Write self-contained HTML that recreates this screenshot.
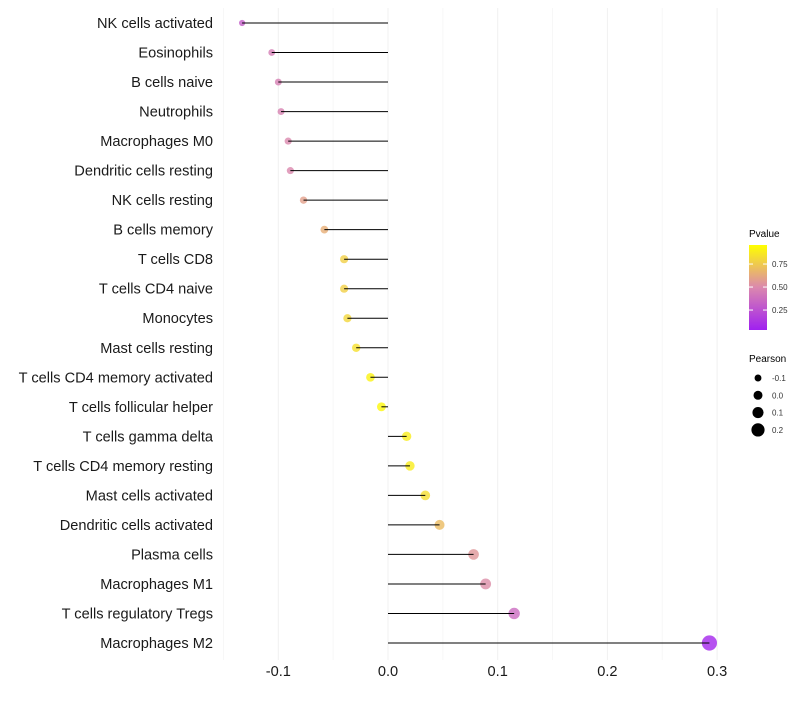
<!DOCTYPE html>
<html><head><meta charset="utf-8"><style>
body{margin:0;background:#fff;font-family:"Liberation Sans",sans-serif}
</style></head><body>
<svg id="chart" width="800" height="700" xmlns="http://www.w3.org/2000/svg" font-family="Liberation Sans, sans-serif">
<defs><linearGradient id="pg" x1="0" y1="1" x2="0" y2="0">
<stop offset="0" stop-color="#A020F0"/><stop offset="0.5" stop-color="#DB88AE"/><stop offset="1" stop-color="#FFFF00"/>
</linearGradient></defs>
<g id="grid"></g>
<g id="marks"></g>
<g id="labels"></g>
<g id="xticks"></g>
<g>
<text x="749" y="237" font-size="10" fill="#000">Pvalue</text>
<rect x="749" y="245" width="18" height="85" fill="url(#pg)"/>
<g id="cbticks"></g>
</g>
<g id="sizeleg">
<text x="749" y="362" font-size="10" fill="#000">Pearson</text>
</g>
</svg>
<script>
const cells=["NK cells activated","Eosinophils","B cells naive","Neutrophils","Macrophages M0","Dendritic cells resting","NK cells resting","B cells memory","T cells CD8","T cells CD4 naive","Monocytes","Mast cells resting","T cells CD4 memory activated","T cells follicular helper","T cells gamma delta","T cells CD4 memory resting","Mast cells activated","Dendritic cells activated","Plasma cells","Macrophages M1","T cells regulatory  Tregs","Macrophages M2"];
const pearson=[-0.133,-0.106,-0.100,-0.0975,-0.091,-0.089,-0.077,-0.058,-0.040,-0.040,-0.037,-0.029,-0.016,-0.006,0.017,0.020,0.034,0.047,0.078,0.089,0.115,0.293];
const pvalue=[0.30,0.45,0.46,0.47,0.50,0.50,0.60,0.66,0.80,0.80,0.83,0.87,0.95,0.97,0.92,0.92,0.86,0.72,0.56,0.52,0.36,0.03];
const xTicks=[-0.1,0.0,0.1,0.2,0.3];
const xTickLabels=["-0.1","0.0","0.1","0.2","0.3"];
const cbTicks=[0.25,0.5,0.75];
const cbLabels=["0.25","0.50","0.75"];
const sizeVals=[-0.1,0.0,0.1,0.2];
const sizeLabels=["-0.1","0.0","0.1","0.2"];
const NS="http://www.w3.org/2000/svg";
const X=v=>388+v*1097;
const Y=i=>23+i*(620/21);
const R=v=>Math.max(1.5,4.5+v*10.5);
const cbY=p=>330-(p-0.033)/(0.957-0.033)*85;
function lerp(a,b,t){return a.map((x,i)=>Math.round(x+(b[i]-x)*t));}
function col(p){const lo=[160,32,240],mid=[219,136,174],hi=[255,255,0];
 const c=p<0.5?lerp(lo,mid,p/0.5):lerp(mid,hi,(p-0.5)/0.5);return `rgb(${c})`;}
function mk(t,a,parent){const e=document.createElementNS(NS,t);for(const k in a)e.setAttribute(k,a[k]);parent.appendChild(e);return e;}
const grid=document.getElementById('grid');
for(let k=-3;k<=6;k++){const v=k*0.05;const major=(k%2===0);
 const g=mk('line',{x1:X(v),x2:X(v),y1:8,y2:660,stroke:major?'#f0f0f0':'#f7f7f7','stroke-width':1},grid);
 
 }
const marks=document.getElementById('marks'),labels=document.getElementById('labels');
cells.forEach((c,i)=>{
 const pt=mk('circle',{cx:X(pearson[i]),cy:Y(i),r:R(pearson[i]),fill:col(pvalue[i]),'fill-opacity':0.8},marks);
 
 
 const ln=mk('line',{x1:X(0),x2:X(pearson[i]),y1:Y(i),y2:Y(i),stroke:'#000','stroke-width':1},marks);
 
 
 const t=mk('text',{x:213,y:Y(i)+5,'text-anchor':'end','font-size':14.6,fill:'#1a1a1a'},labels);
 t.textContent=c;
 
 
});
const xt=document.getElementById('xticks');
xTicks.forEach((v,i)=>{const t=mk('text',{x:X(v),y:676,'text-anchor':'middle','font-size':14.6,fill:'#1a1a1a'},xt);
 t.textContent=xTickLabels[i];
 
 });
const cb=document.getElementById('cbticks');
cbTicks.forEach((v,i)=>{const y=cbY(v);
 mk('line',{x1:749,x2:753,y1:y,y2:y,stroke:'#fff'},cb);mk('line',{x1:763,x2:767,y1:y,y2:y,stroke:'#fff'},cb);
 const t=mk('text',{x:772,y:y+3,'font-size':8,fill:'#333'},cb);t.textContent=cbLabels[i];
 
 });
const sl=document.getElementById('sizeleg');
sizeVals.forEach((v,i)=>{const y=378+i*17.3;
 const c=mk('circle',{cx:758,cy:y,r:R(v),fill:'#000'},sl);
 
 
 const t=mk('text',{x:772,y:y+3,'font-size':8,fill:'#333'},sl);t.textContent=sizeLabels[i];
 
 });
</script>
</body></html>
